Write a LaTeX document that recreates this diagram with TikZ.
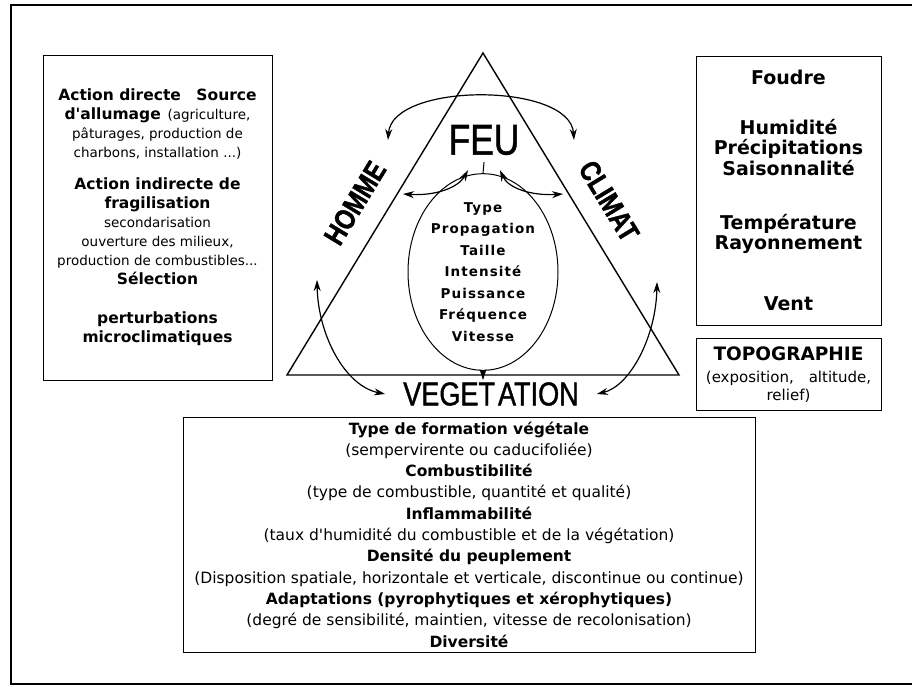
\documentclass[tikz,border=0pt]{standalone}
\usepackage{fontspec}
\setmainfont{DejaVu Sans}
\newfontfamily\titrefont[FakeStretch=0.82, FakeBold=1.2]{Liberation Sans}
\newfontfamily\espacefont[LetterSpace=8]{DejaVu Sans}
\usetikzlibrary{arrows.meta}
\usetikzlibrary{positioning}
\usetikzlibrary{shapes.geometric}
\tikzset{boite/.style = {draw, line width=0.8pt, inner sep=0, align=center}}
\tikzset{titre/.style = {inner sep=2pt}}
\tikzset{fleche/.style = {line width=1.2pt, >={Stealth[length=11pt, width=7pt]}}}
\newcommand\gras[1]{{\bfseries\fontsize{15.5}{19}\selectfont #1}}

\begin{document}
\begin{tikzpicture}[x=1pt, y=-1pt]
      \useasboundingbox (0, 0) rectangle (912, 687);
      \draw [line width=1.2pt] (912, 5) -- (11, 5) -- (11, 684) -- (912, 684);

      \draw [line width=1.4pt, line join=miter] (483, 53) -- (679, 375) -- (287, 375) -- cycle;

      \node [titre, font=\titrefont\fontsize{43}{43}\selectfont] (feu) at (484, 140) {FEU};
      \node [titre, rotate=58.7, font=\titrefont\bfseries\fontsize{29}{30}\selectfont] (homme) at (355, 203) {HOMME};
      \node [titre, rotate=-58.7, font=\titrefont\bfseries\fontsize{29}{30}\selectfont] (climat) at (609, 201) {CLIMAT};
      \node [titre, font=\titrefont\fontsize{33}{33}\selectfont] (vegetation) at (491, 394) {VEGET\kern3pt ATION};

      \node [ellipse, draw, line width=1pt, inner sep=0, minimum width=150, minimum height=170, align=center,
             font=\espacefont\bfseries\fontsize{13.5}{21.5}\selectfont] (modalites) at (483, 272)
            {Type\\ Propagation\\ Taille\\ Intensité\\ Puissance\\ Fréquence\\ Vitesse};

      \node [boite, minimum width=229, minimum height=325, font=\fontsize{13.5}{19}\selectfont] (actions) at (157.5, 217.5) {%
            \gras{Action directe\quad Source}\\
            \gras{d\textquotesingle allumage}\enspace (agriculture,\\
            pâturages, production de\\
            charbons, installation ...)\\[13pt]
            \gras{Action indirecte de}\\
            \gras{fragilisation}\\
            secondarisation\\
            ouverture des milieux,\\
            production de combustibles...\\
            \gras{Sélection}\\[20pt]
            \gras{perturbations}\\
            \gras{microclimatiques}};

      \node [boite, minimum width=185, minimum height=269, font=\bfseries\fontsize{19}{20.7}\selectfont] (meteo) at (788.5, 190.5) {%
            Foudre\\[29pt]
            Humidité\\ Précipitations\\ Saisonnalité\\[33pt]
            Température\\ Rayonnement\\[40pt]
            Vent};

      \node [boite, minimum width=185, minimum height=72, below=13pt of meteo, font=\fontsize{15}{18}\selectfont] (topo) {%
            {\bfseries\fontsize{18.5}{20}\selectfont TOPOGRAPHIE}\\[4pt]
            (exposition,\quad altitude,\\
            relief)};

      \node [boite, minimum width=572, minimum height=235, font=\fontsize{15.5}{21.3}\selectfont] (caracteres) at (469, 534.5) {%
            \textbf{Type de formation végétale}\\
            (sempervirente ou caducifoliée)\\
            \textbf{Combustibilité}\\
            (type de combustible, quantité et qualité)\\
            \textbf{Inflammabilité}\\
            (taux d\textquotesingle humidité du combustible et de la végétation)\\
            \textbf{Densité du peuplement}\\
            (Disposition spatiale, horizontale et verticale, discontinue ou continue)\\
            \textbf{Adaptations (pyrophytiques et xérophytiques)}\\
            (degré de sensibilité, maintien, vitesse de recolonisation)\\
            \textbf{Diversité}};

      \coordinate (hg) at (388, 140);
      \coordinate (hd) at (574, 140);
      \coordinate (fg) at (403, 194);
      \coordinate (fd) at (563, 194);
      \coordinate (vg) at (317, 280);
      \coordinate (vd) at (657, 282);

      \draw [fleche, <->] (hg) .. controls (392, 82) and (570, 82) .. (hd);
      \draw [fleche, <->] (fg) .. controls (435, 196) and (458, 188) .. ([xshift=-16pt, yshift=-13pt]feu.south);
      \draw [fleche, <->] ([xshift=16pt, yshift=-13pt]feu.south) .. controls (508, 188) and (531, 196) .. (fd);
      \draw [line width=1pt] ([yshift=-5pt]feu.south) -- (modalites.north);
      \draw [fleche, ->] (modalites.south) -- (modalites.south |- vegetation.north);
      \draw [fleche, <->] (vg) .. controls (318, 335) and (345, 386) .. ([xshift=-16pt]vegetation.west);
      \draw [fleche, <->] (vd) .. controls (656, 337) and (630, 386) .. ([xshift=16pt]vegetation.east);
\end{tikzpicture}
\end{document}
